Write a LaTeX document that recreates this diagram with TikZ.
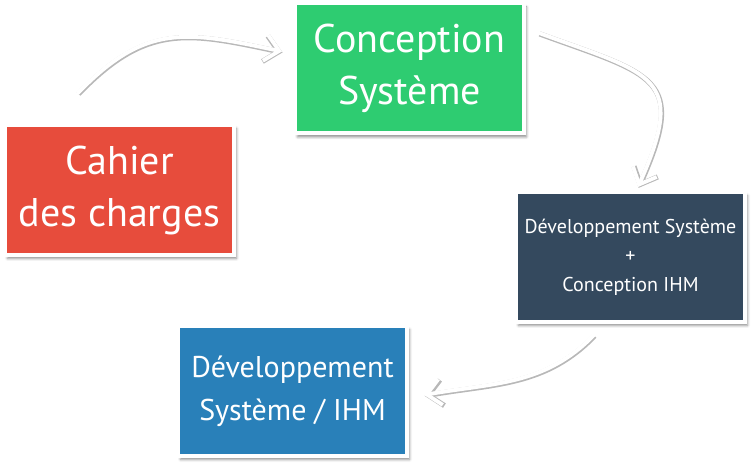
\documentclass[tikz,border=0pt]{standalone}
\usepackage{fontspec}
\setmainfont{PT Sans}
\usetikzlibrary{arrows.meta,positioning,shadows.blur}

\definecolor{flatred}{HTML}{E74C3C}
\definecolor{flatgreen}{HTML}{2ECC71}
\definecolor{flatnavy}{HTML}{34495E}
\definecolor{flatblue}{HTML}{2980B9}

\begin{document}
\begin{tikzpicture}[
    x=1pt, y=1pt,
    stage/.style={rectangle, draw=white, line width=4pt, outer sep=0pt, minimum width=229pt, minimum height=130pt, inner sep=0pt, align=center, text=white, blur shadow={shadow xshift=2.5pt, shadow yshift=-3.5pt, shadow blur radius=2.5pt, shadow opacity=45}},
    big/.style={font=\fontsize{40}{52}\selectfont},
    mid/.style={font=\fontsize{30}{43}\selectfont},
    small/.style={font=\fontsize{20}{29}\selectfont},
    flow/.style={-{Straight Barb[length=14pt,width=26pt]}, draw=white, line width=3.8pt, line cap=round, preaction={draw=black!28, line width=5.2pt, transform canvas={xshift=0.6pt, yshift=-0.9pt}}}
]
\useasboundingbox (0,0) rectangle (752,464);

% Stages
\node[stage, big, fill=flatred] at (119.5,274) (cdc) {Cahier\\des charges};
\node[stage, big, fill=flatgreen, above right=-8.5pt and 61pt of cdc] (csys) {Conception\\Système};
\node[stage, small, fill=flatnavy, below right=58.5pt and -8pt of csys] (dev) {Développement Système\\+\\Conception IHM};
\node[stage, mid, fill=flatblue, below left=4pt and 109pt of dev] (devihm) {Développement\\Système / IHM};

% Cycle arrows
\draw[flow] ([xshift=-41.5pt,yshift=32pt]cdc.north) to[out=46, in=168, looseness=1.2] ([xshift=-13pt,yshift=17pt]csys.west);
\draw[flow] ([xshift=15pt,yshift=35.5pt]csys.east) to[out=-20, in=66, looseness=1.7] ([xshift=7.5pt,yshift=5pt]dev.north);
\draw[flow] ([xshift=-36.5pt,yshift=-13pt]dev.south) to[out=-134, in=10] ([xshift=17pt,yshift=-4pt]devihm.east);

\end{tikzpicture}
\end{document}
